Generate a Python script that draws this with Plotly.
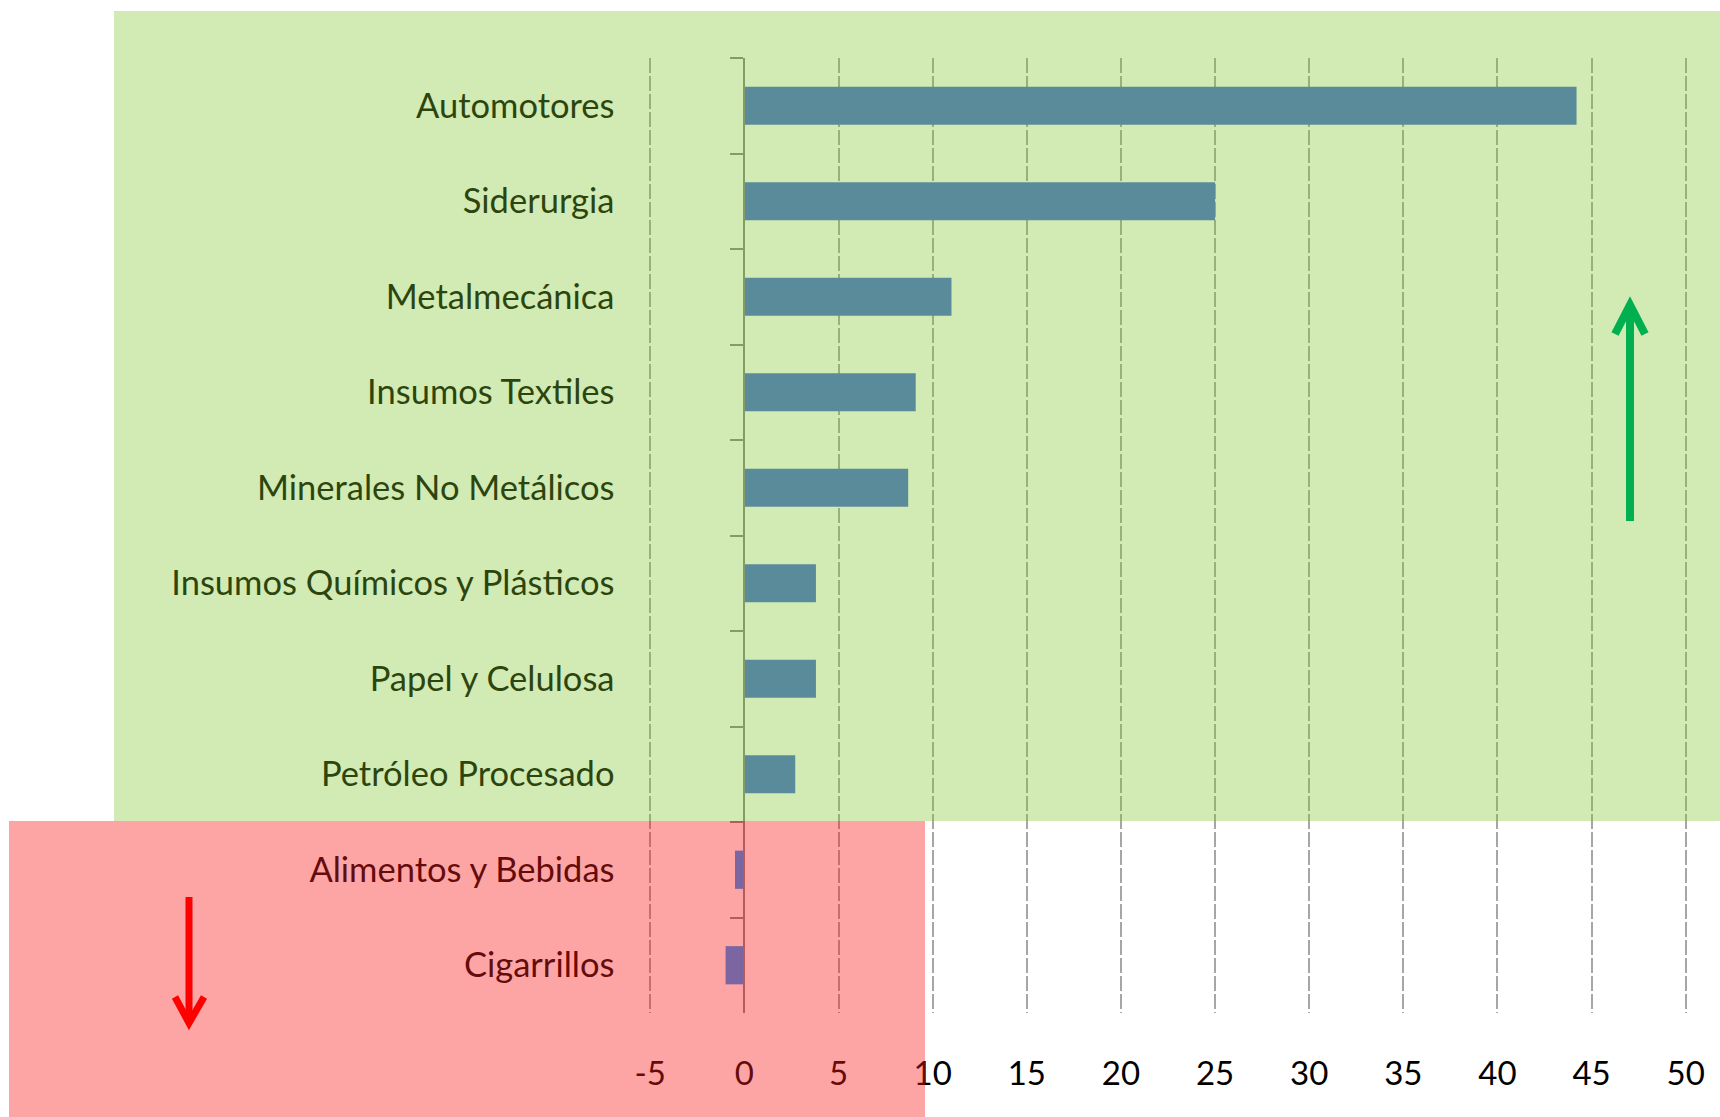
import plotly.graph_objects as go

# ---- data ----
categories = ["Automotores", "Siderurgia", "Metalmecánica", "Insumos Textiles",
              "Minerales No Metálicos", "Insumos Químicos y Plásticos",
              "Papel y Celulosa", "Petróleo Procesado", "Alimentos y Bebidas",
              "Cigarrillos"]
values = [44.2, 25.0, 11.0, 9.1, 8.7, 3.8, 3.8, 2.7, -0.5, -1.0]
x_tickvals = [-5, 0, 5, 10, 15, 20, 25, 30, 35, 40, 45, 50]
x_ticktext = ["-5", "0", "5", "10", "15", "20", "25", "30", "35", "40", "45", "50"]

# ---- layout geometry ----
W, H = 1720, 1117
L, R, T, B = 648, 32, 58, 104
PW, PH = W - L - R, H - T - B
XMIN, XMAX = -5, 50
PADX = 0.12
FONT = "Lato, Carlito, Calibri, sans-serif"


def px(p):
    return (p - L) / PW


def py(p):
    return (H - B - p) / PH


bar_colors = ["rgb(72,110,215)" if v >= 0 else "rgb(40,150,250)" for v in values]

fig = go.Figure()
fig.add_trace(go.Bar(
    x=values, y=categories, orientation="h",
    marker=dict(color=bar_colors, line=dict(width=0)),
    hoverinfo="x+y",
))

fig.update_layout(
    width=W, height=H,
    margin=dict(l=L, r=R, t=T, b=B, pad=0),
    paper_bgcolor="white", plot_bgcolor="white",
    showlegend=False, bargap=0.6,
    font=dict(family=FONT, size=34, color="black"),
)

fig.update_xaxes(
    range=[XMIN - PADX, XMAX + PADX], tickvals=x_tickvals, ticktext=x_ticktext,
    showgrid=True, gridcolor="rgb(166,166,166)", gridwidth=2,
    griddash="15px,3px", zeroline=False, showline=False, ticks="",
    tickfont=dict(family=FONT, size=33, color="black"),
    ticklabelstandoff=38,
)

fig.update_yaxes(
    type="category", autorange="reversed",
    anchor="free", position=(0 - XMIN + PADX) / (XMAX - XMIN + 2 * PADX),
    showline=True, linecolor="rgb(134,134,134)", linewidth=2,
    ticks="outside", tickson="boundaries", ticklen=13, tickwidth=2,
    tickcolor="rgb(134,134,134)", showgrid=False, zeroline=False,
    tickfont=dict(family=FONT, size=34.5, color="black"),
    ticklabelstandoff=122,
)

shapes = []
# translucent overlays (above everything, tinting text, gridlines, bars)
shapes.append(dict(type="rect", xref="paper", yref="paper", layer="above",
                   x0=px(114), x1=px(1720), y0=py(11), y1=py(821),
                   fillcolor="rgb(126,195,41)", opacity=0.35, line=dict(width=0)))
shapes.append(dict(type="rect", xref="paper", yref="paper", layer="above",
                   x0=px(9), x1=px(925), y0=py(821), y1=py(1117),
                   fillcolor="rgb(250,30,30)", opacity=0.4, line=dict(width=0)))

# green up arrow
g = "rgb(0,176,80)"
shapes.append(dict(type="line", xref="paper", yref="paper", layer="above",
                   x0=px(1630), x1=px(1630), y0=py(521), y1=py(306),
                   line=dict(color=g, width=8)))
shapes.append(dict(type="path", xref="paper", yref="paper", layer="above",
                   path=f"M {px(1615)} {py(334)} L {px(1630)} {py(305)} L {px(1645)} {py(334)}",
                   line=dict(color=g, width=8)))
# red down arrow
r = "rgb(255,0,0)"
shapes.append(dict(type="line", xref="paper", yref="paper", layer="above",
                   x0=px(189), x1=px(189), y0=py(897), y1=py(1022),
                   line=dict(color=r, width=7)))
shapes.append(dict(type="path", xref="paper", yref="paper", layer="above",
                   path=f"M {px(175)} {py(997)} L {px(189)} {py(1023)} L {px(204)} {py(997)}",
                   line=dict(color=r, width=7)))

fig.update_layout(shapes=shapes)

fig.write_html("out.html", config={"displayModeBar": False},
               post_script="document.body.style.margin='0';document.body.style.overflow='hidden';")
